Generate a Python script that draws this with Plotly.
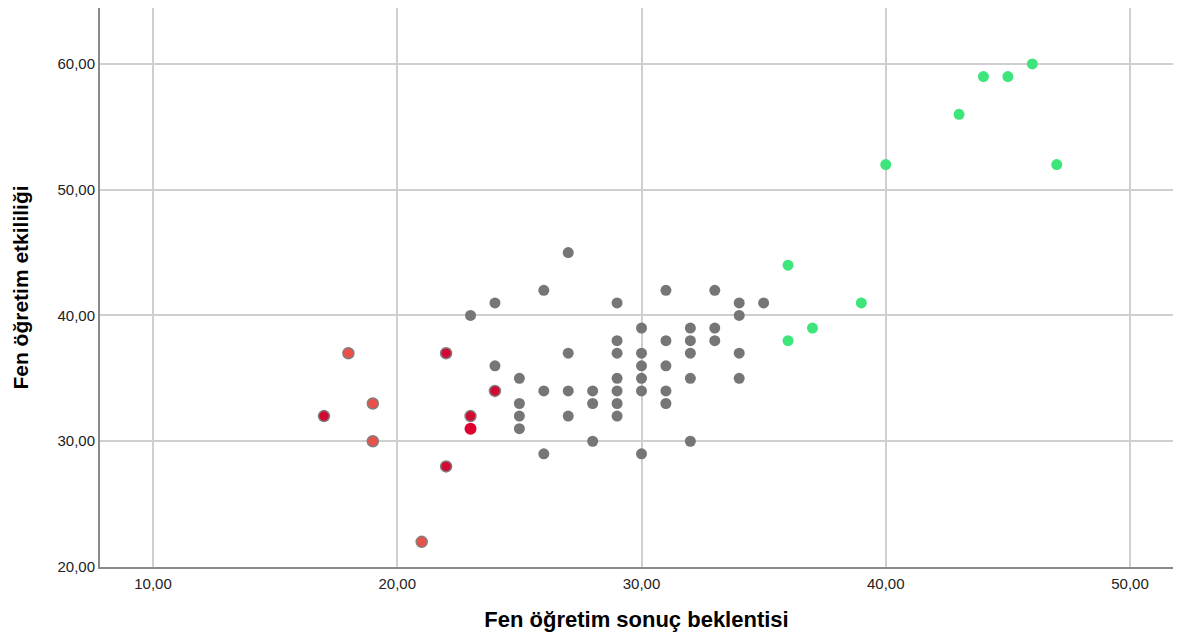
import plotly.graph_objects as go

# Data (x = Fen öğretim sonuç beklentisi, y = Fen öğretim etkililiği)
gray_x = [27, 26, 24, 23, 29, 31, 33, 34, 35, 34, 30, 32, 33, 29, 31, 32, 33,
          27, 29, 30, 32, 34, 24, 30, 31, 25, 29, 30, 32, 34, 26, 27, 28, 29,
          30, 31, 25, 28, 29, 31, 25, 27, 29, 25, 28, 32, 26, 30]
gray_y = [45, 42, 41, 40, 41, 42, 42, 41, 41, 40, 39, 39, 39, 38, 38, 38, 38,
          37, 37, 37, 37, 37, 36, 36, 36, 35, 35, 35, 35, 35, 34, 34, 34, 34,
          34, 34, 33, 33, 33, 33, 32, 32, 32, 31, 30, 30, 29, 29]

red_light_x = [18, 19, 19, 21]
red_light_y = [37, 33, 30, 22]
red_dark_x = [17, 22, 22, 23, 24]
red_dark_y = [32, 37, 28, 32, 34]
red_bright_x = [23]
red_bright_y = [31]

green_x = [46, 44, 45, 43, 40, 47, 36, 39, 37, 36]
green_y = [60, 59, 59, 56, 52, 52, 44, 41, 39, 38]

x_ticks = [10, 20, 30, 40, 50]
y_ticks = [20, 30, 40, 50, 60]

MS = 11
fig = go.Figure()
fig.add_trace(go.Scatter(x=gray_x, y=gray_y, mode="markers",
                         marker=dict(size=MS, color="#767676", line=dict(width=0))))
fig.add_trace(go.Scatter(x=green_x, y=green_y, mode="markers",
                         marker=dict(size=MS, color="#3de57a", line=dict(width=0))))
fig.add_trace(go.Scatter(x=red_light_x, y=red_light_y, mode="markers",
                         marker=dict(size=MS, color="#e8504a", line=dict(width=1.5, color="#808080"))))
fig.add_trace(go.Scatter(x=red_dark_x, y=red_dark_y, mode="markers",
                         marker=dict(size=MS, color="#d00a32", line=dict(width=1.5, color="#808080"))))
fig.add_trace(go.Scatter(x=red_bright_x, y=red_bright_y, mode="markers",
                         marker=dict(size=MS + 1, color="#e0002e", line=dict(width=0))))

axis_font = dict(family="Liberation Sans, Arial, sans-serif", size=15, color="#222222")

fig.update_layout(
    width=1165, height=624,
    margin=dict(l=92, r=0, t=0, b=65),
    paper_bgcolor="white", plot_bgcolor="white",
    showlegend=False,
    separators=",.",
    xaxis=dict(
        range=[7.83, 51.76], tickvals=x_ticks, tickformat=".2f",
        showgrid=True, gridcolor="#cfcfcf", gridwidth=1.5,
        showline=True, linecolor="#8a8a8a", linewidth=2,
        zeroline=False, ticks="", tickfont=axis_font, ticklabelstandoff=2,
        automargin=False,
        title=dict(text="<b>Fen öğretim sonuç beklentisi</b>",
                   font=dict(family="Liberation Sans, Arial, sans-serif", size=22, color="#000000"),
                   standoff=24),
    ),
    yaxis=dict(
        range=[20, 64.45], tickvals=y_ticks, tickformat=".2f",
        showgrid=True, gridcolor="#cfcfcf", gridwidth=1.5,
        showline=True, linecolor="#8a8a8a", linewidth=2,
        zeroline=False, ticks="", tickfont=axis_font, ticklabelstandoff=0,
        automargin=False,
        title=dict(text="<b>Fen öğretim etkililiği</b>",
                   font=dict(family="Liberation Sans, Arial, sans-serif", size=21, color="#000000"),
                   standoff=23),
    ),
)

fig.write_html("out.html")
